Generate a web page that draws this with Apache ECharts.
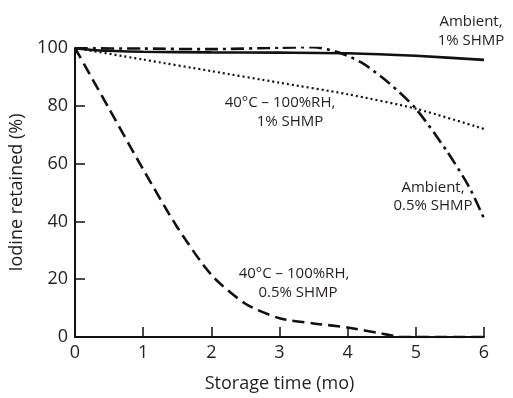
<!DOCTYPE html>
<html>
<head>
<meta charset="utf-8">
<script src="https://cdn.jsdelivr.net/npm/echarts@6/dist/echarts.min.js"></script>
<style>
html,body{margin:0;padding:0;background:#fff;}
#c{width:513px;height:398px;}
</style>
</head>
<body>
<div id="c"></div>
<script>
// Data
const xTicks = [0, 1, 2, 3, 4, 5, 6];
const yTicks = [0, 20, 40, 60, 80, 100];

const ambient1X = [0, 0.3, 1, 2, 3, 4, 5, 6];
const ambient1Y = [100, 99.2, 98.7, 98.5, 98.4, 98.2, 97.3, 95.9];

const ambient05X = [0, 1, 2, 3, 3.5, 3.85, 4.2, 4.6, 5.0, 5.45, 5.78, 6];
const ambient05Y = [99.9, 99.8, 99.6, 100.1, 100.3, 98.6, 95, 88, 79, 64.5, 52, 41];

const rh1X = [0, 1, 2, 3, 4, 5, 6];
const rh1Y = [100, 96, 92, 88, 84, 79, 72];

const rh05X = [0, 0.5, 1, 1.5, 2, 2.5, 3, 3.5, 4, 4.5, 4.8, 5, 6];
const rh05Y = [100, 79, 58, 38, 21.5, 11.5, 6.5, 4.7, 3.3, 1.2, 0, 0, 0];

const zip = (xs, ys) => xs.map((x, i) => [x, ys[i]]);
const FONT = 'Open Sans';
const TXT = '#231f20';

const chart = echarts.init(document.getElementById('c'), null, {renderer: 'canvas'});

function line(name, xs, ys, type, width) {
  return {
    name, type: 'line', data: zip(xs, ys), showSymbol: false,
    smooth: 0.25,
    lineStyle: {color: '#111', width: width, type: type, cap: 'butt'},
    z: 3, silent: true
  };
}

function label(text, x, y) {
  return {type: 'text', x: x, y: y, silent: true,
    style: {text: text, fontFamily: FONT, fontSize: 15, fill: TXT,
      textAlign: 'center', textVerticalAlign: 'middle'}};
}

chart.setOption({
  animation: false,
  grid: {left: 75, right: 29, top: 48, bottom: 59},
  xAxis: {
    type: 'value', min: 0, max: 6, interval: 1,
    name: 'Storage time (mo)', nameLocation: 'middle', nameGap: 38,
    nameTextStyle: {fontFamily: FONT, fontSize: 18, color: TXT},
    axisLine: {lineStyle: {color: '#111', width: 2}},
    axisTick: {inside: true, length: 10, lineStyle: {color: '#111', width: 1.5}},
    axisLabel: {fontFamily: FONT, fontSize: 18, color: TXT, margin: 7,
      formatter: v => xTicks.includes(v) ? String(v) : ''},
    splitLine: {show: false}
  },
  yAxis: {
    type: 'value', min: 0, max: 100, interval: 20,
    name: 'Iodine retained (%)', nameLocation: 'middle', nameGap: 37,
    nameTextStyle: {fontFamily: FONT, fontSize: 18, color: TXT},
    axisLine: {show: true, lineStyle: {color: '#111', width: 2}},
    axisTick: {inside: true, length: 10, lineStyle: {color: '#111', width: 1.5}},
    axisLabel: {fontFamily: FONT, fontSize: 18, color: TXT, margin: 7,
      formatter: v => yTicks.includes(v) ? String(v) : ''},
    splitLine: {show: false}
  },
  series: [
    line('Ambient, 1% SHMP', ambient1X, ambient1Y, 'solid', 2.6),
    line('Ambient, 0.5% SHMP', ambient05X, ambient05Y, [13, 5, 3, 5], 2.6),
    line('40°C – 100%RH, 1% SHMP', rh1X, rh1Y, [2, 3], 2.2),
    line('40°C – 100%RH, 0.5% SHMP', rh05X, rh05Y, [12, 6], 2.6)
  ],
  graphic: [
    label('Ambient,', 471, 22), label('1% SHMP', 471, 41),
    label('40°C – 100%RH,', 280, 103), label('1% SHMP', 290, 122),
    label('Ambient,', 433, 188), label('0.5% SHMP', 433, 206),
    label('40°C – 100%RH,', 294, 274), label('0.5% SHMP', 298, 293)
  ]
});
</script>
</body>
</html>
